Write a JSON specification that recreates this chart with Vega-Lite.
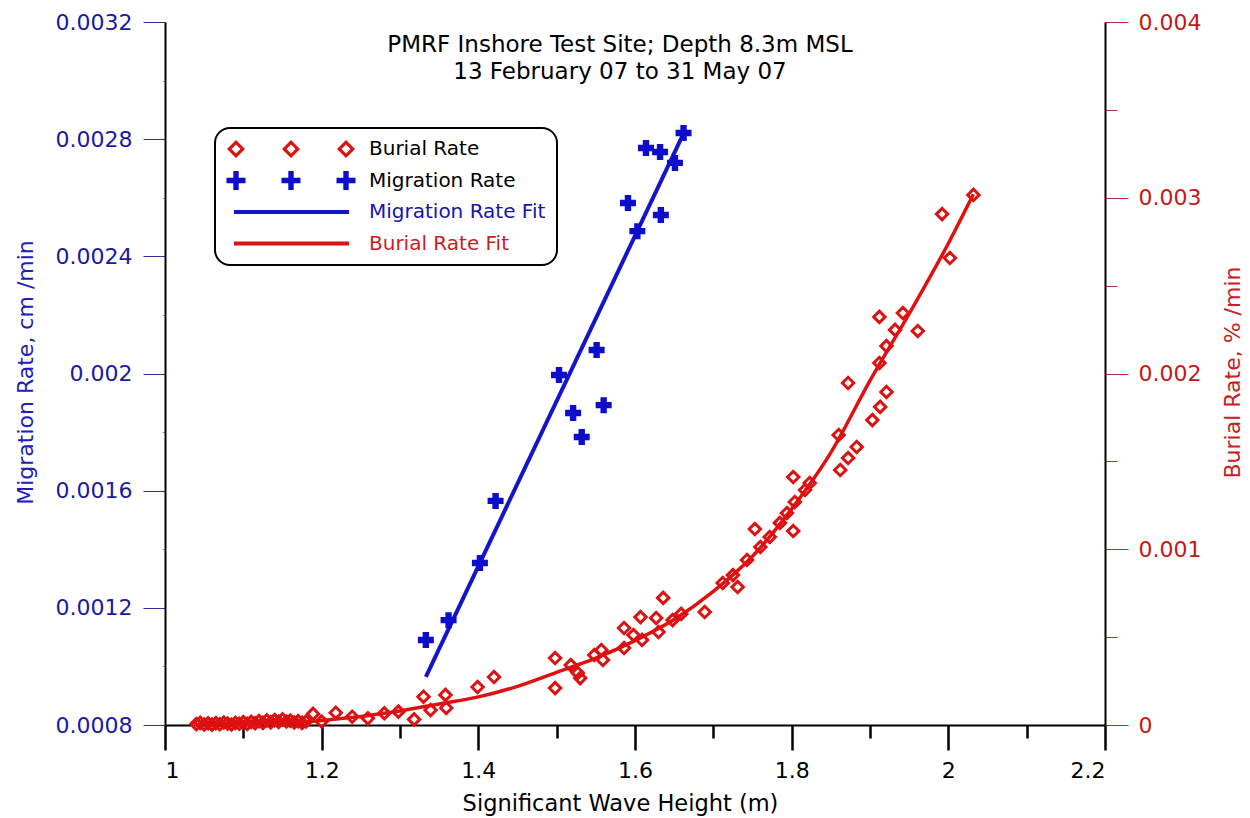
{
  "$schema": "https://vega.github.io/schema/vega-lite/v6.json",
  "width": 940,
  "height": 703,
  "autosize": "none",
  "padding": {"left": 165, "top": 22, "right": 145, "bottom": 93},
  "background": "white",
  "config": {
    "view": {"stroke": null},
    "font": "DejaVu Sans",
    "legend": {"strokeWidth": 2}
  },
  "title": {
    "text": ["PMRF Inshore Test Site; Depth 8.3m MSL", "13 February 07 to 31 May 07"],
    "font": "DejaVu Sans",
    "fontSize": 23,
    "fontWeight": "normal",
    "color": "black",
    "anchor": "middle",
    "baseline": "top",
    "lineHeight": 27,
    "dx": -15,
    "dy": 73,
    "offset": 0
  },
  "datasets": {
    "migration": [
      {"h": 1.333, "rate": 0.00109, "series": "Migration Rate"},
      {"h": 1.362, "rate": 0.001158, "series": "Migration Rate"},
      {"h": 1.402, "rate": 0.001353, "series": "Migration Rate"},
      {"h": 1.422, "rate": 0.001565, "series": "Migration Rate"},
      {"h": 1.503, "rate": 0.001995, "series": "Migration Rate"},
      {"h": 1.521, "rate": 0.001865, "series": "Migration Rate"},
      {"h": 1.532, "rate": 0.001783, "series": "Migration Rate"},
      {"h": 1.551, "rate": 0.00208, "series": "Migration Rate"},
      {"h": 1.56, "rate": 0.001892, "series": "Migration Rate"},
      {"h": 1.591, "rate": 0.002582, "series": "Migration Rate"},
      {"h": 1.603, "rate": 0.002486, "series": "Migration Rate"},
      {"h": 1.614, "rate": 0.00277, "series": "Migration Rate"},
      {"h": 1.632, "rate": 0.002756, "series": "Migration Rate"},
      {"h": 1.633, "rate": 0.002541, "series": "Migration Rate"},
      {"h": 1.651, "rate": 0.002719, "series": "Migration Rate"},
      {"h": 1.662, "rate": 0.002821, "series": "Migration Rate"}
    ],
    "migfit": [
      {"h": 1.333, "rate": 0.000964},
      {"h": 1.664, "rate": 0.002831}
    ],
    "burial": [
      {"h": 1.04, "rate": 0.000005},
      {"h": 1.045, "rate": 0.000012},
      {"h": 1.05, "rate": 0.000003},
      {"h": 1.055, "rate": 0.00001},
      {"h": 1.06, "rate": 0.000002},
      {"h": 1.065, "rate": 0.000011},
      {"h": 1.07, "rate": 0.000004},
      {"h": 1.075, "rate": 0.000014},
      {"h": 1.08, "rate": 0.000008},
      {"h": 1.085, "rate": 0.000003},
      {"h": 1.09, "rate": 0.000012},
      {"h": 1.095, "rate": 0.000007},
      {"h": 1.1, "rate": 0.000016},
      {"h": 1.105, "rate": 0.000006},
      {"h": 1.11, "rate": 0.000018},
      {"h": 1.115, "rate": 0.00001},
      {"h": 1.12, "rate": 0.000022},
      {"h": 1.125, "rate": 0.000012},
      {"h": 1.13, "rate": 0.000026},
      {"h": 1.135, "rate": 0.000015},
      {"h": 1.14, "rate": 0.000028},
      {"h": 1.145, "rate": 0.000018},
      {"h": 1.15, "rate": 0.000032},
      {"h": 1.155, "rate": 0.00002},
      {"h": 1.16, "rate": 0.000025},
      {"h": 1.165, "rate": 0.000014},
      {"h": 1.17, "rate": 0.000022},
      {"h": 1.175, "rate": 0.000012},
      {"h": 1.18, "rate": 0.00002},
      {"h": 1.189, "rate": 0.000063},
      {"h": 1.2, "rate": 0.00002},
      {"h": 1.218, "rate": 0.00007},
      {"h": 1.239, "rate": 0.000047},
      {"h": 1.259, "rate": 0.000038},
      {"h": 1.28, "rate": 0.000067},
      {"h": 1.298, "rate": 0.000076},
      {"h": 1.318, "rate": 0.000032},
      {"h": 1.33, "rate": 0.000161},
      {"h": 1.339, "rate": 0.000085},
      {"h": 1.358, "rate": 0.000171},
      {"h": 1.359, "rate": 0.000097},
      {"h": 1.399, "rate": 0.000216},
      {"h": 1.42, "rate": 0.000273},
      {"h": 1.498, "rate": 0.000381},
      {"h": 1.498, "rate": 0.00021},
      {"h": 1.518, "rate": 0.000341},
      {"h": 1.527, "rate": 0.000296},
      {"h": 1.53, "rate": 0.000267},
      {"h": 1.548, "rate": 0.000398},
      {"h": 1.557, "rate": 0.000427},
      {"h": 1.559, "rate": 0.00037},
      {"h": 1.586, "rate": 0.000552},
      {"h": 1.598, "rate": 0.000512},
      {"h": 1.586, "rate": 0.000438},
      {"h": 1.607, "rate": 0.000614},
      {"h": 1.609, "rate": 0.000484},
      {"h": 1.627, "rate": 0.000609},
      {"h": 1.63, "rate": 0.000529},
      {"h": 1.636, "rate": 0.000723},
      {"h": 1.648, "rate": 0.000597},
      {"h": 1.659, "rate": 0.000632},
      {"h": 1.689, "rate": 0.000643},
      {"h": 1.712, "rate": 0.000808},
      {"h": 1.731, "rate": 0.000785},
      {"h": 1.725, "rate": 0.000853},
      {"h": 1.743, "rate": 0.000939},
      {"h": 1.753, "rate": 0.001115},
      {"h": 1.76, "rate": 0.001013},
      {"h": 1.772, "rate": 0.00107},
      {"h": 1.785, "rate": 0.00115},
      {"h": 1.794, "rate": 0.001206},
      {"h": 1.802, "rate": 0.001411},
      {"h": 1.802, "rate": 0.001104},
      {"h": 1.804, "rate": 0.001269},
      {"h": 1.817, "rate": 0.001337},
      {"h": 1.823, "rate": 0.001377},
      {"h": 1.86, "rate": 0.00165},
      {"h": 1.862, "rate": 0.001451},
      {"h": 1.872, "rate": 0.001519},
      {"h": 1.883, "rate": 0.001582},
      {"h": 1.872, "rate": 0.001946},
      {"h": 1.903, "rate": 0.001735},
      {"h": 1.913, "rate": 0.00181},
      {"h": 1.921, "rate": 0.001895},
      {"h": 1.912, "rate": 0.00206},
      {"h": 1.921, "rate": 0.002156},
      {"h": 1.932, "rate": 0.002248},
      {"h": 1.912, "rate": 0.002322},
      {"h": 1.942, "rate": 0.002344},
      {"h": 1.961, "rate": 0.002242},
      {"h": 1.992, "rate": 0.002907},
      {"h": 2.002, "rate": 0.002657},
      {"h": 2.032, "rate": 0.003016}
    ],
    "burfit": [
      {"h": 1.04, "rate": 0},
      {"h": 1.1, "rate": 0.000004},
      {"h": 1.2, "rate": 0.000025},
      {"h": 1.3, "rate": 0.00008},
      {"h": 1.35, "rate": 0.00012},
      {"h": 1.4, "rate": 0.00016},
      {"h": 1.45, "rate": 0.00022},
      {"h": 1.5, "rate": 0.0003},
      {"h": 1.55, "rate": 0.00038},
      {"h": 1.6, "rate": 0.00048},
      {"h": 1.65, "rate": 0.0006},
      {"h": 1.7, "rate": 0.00076},
      {"h": 1.75, "rate": 0.00096},
      {"h": 1.8, "rate": 0.00123},
      {"h": 1.85, "rate": 0.00155},
      {"h": 1.9, "rate": 0.00196},
      {"h": 1.95, "rate": 0.00234},
      {"h": 2.0, "rate": 0.00274},
      {"h": 2.032, "rate": 0.00302}
    ]
  },
  "layer": [
    {
      "data": {"name": "burfit"},
      "mark": {"type": "line", "color": "#e01010", "strokeWidth": 3.5, "interpolate": "monotone"},
      "encoding": {
        "x": {"field": "h", "type": "quantitative", "scale": {"domain": [1, 2.2], "nice": false, "zero": false}, "axis": null},
        "y": {
          "field": "rate", "type": "quantitative",
          "scale": {"domain": [0, 0.004], "nice": false, "zero": false},
          "axis": {
            "orient": "right", "values": [0.0005, 0.0015, 0.0025, 0.0035],
            "labels": false, "domain": false, "title": null, "grid": false,
            "tickSize": 12, "tickColor": "#b03030", "tickWidth": 1
          }
        }
      }
    },
    {
      "data": {"name": "burial"},
      "mark": {"type": "point", "shape": "diamond", "filled": false, "color": "#dd1111", "strokeWidth": 3, "size": 130, "opacity": 1},
      "encoding": {
        "x": {"field": "h", "type": "quantitative", "scale": {"domain": [1, 2.2], "nice": false, "zero": false}, "axis": null},
        "y": {
          "field": "rate", "type": "quantitative",
          "scale": {"domain": [0, 0.004], "nice": false, "zero": false},
          "axis": {
            "orient": "right", "values": [0, 0.001, 0.002, 0.003, 0.004], "format": "~g",
            "grid": false, "domain": true, "domainColor": "black", "domainWidth": 2,
            "tickSize": 23, "tickColor": "#b03030", "tickWidth": 1,
            "labelPadding": 10, "labelFontSize": 22, "labelFont": "DejaVu Sans", "labelColor": "#c41818",
            "title": "Burial Rate, % /min", "titleFont": "DejaVu Sans", "titleFontSize": 22, "titleFontWeight": "normal",
            "titleColor": "#c82020", "titleAngle": 270, "titleX": 127, "titleY": 350, "titleBaseline": "middle", "titleAlign": "center"
          }
        }
      }
    },
    {
      "data": {"name": "migfit"},
      "mark": {"type": "line", "color": "#1414c8", "strokeWidth": 4},
      "encoding": {
        "x": {
          "field": "h", "type": "quantitative", "scale": {"domain": [1, 2.2], "nice": false, "zero": false},
          "axis": {
            "orient": "bottom", "values": [1.1, 1.3, 1.5, 1.7, 1.9, 2.1],
            "labels": false, "domain": false, "title": null, "grid": false,
            "tickSize": 13, "tickColor": "black", "tickWidth": 2.5
          }
        },
        "y": {
          "field": "rate", "type": "quantitative",
          "scale": {"domain": [0.0008, 0.0032], "nice": false, "zero": false},
          "axis": {
            "orient": "left", "values": [0.001, 0.0014, 0.0018, 0.0022, 0.0026, 0.003],
            "labels": false, "domain": false, "title": null, "grid": false,
            "tickSize": 3, "tickColor": "#999999", "tickWidth": 1
          }
        }
      }
    },
    {
      "data": {"name": "migration"},
      "mark": {"type": "point", "shape": "cross", "filled": true, "size": 256, "opacity": 1},
      "encoding": {
        "x": {
          "field": "h", "type": "quantitative", "scale": {"domain": [1, 2.2], "nice": false, "zero": false},
          "axis": {
            "orient": "bottom", "values": [1, 1.2, 1.4, 1.6, 1.8, 2, 2.2], "format": "~g",
            "grid": false, "domain": true, "domainColor": "black", "domainWidth": 2,
            "tickSize": 25, "tickColor": "black", "tickWidth": 2.5,
            "labelPadding": 10, "labelFontSize": 22, "labelFont": "DejaVu Sans", "labelColor": "black",
            "title": "Significant Wave Height  (m)", "titleFont": "DejaVu Sans", "titleFontSize": 22.5, "titleFontWeight": "normal",
            "titleColor": "black", "titleX": 455, "titleY": 85, "titleBaseline": "alphabetic", "titleAlign": "center"
          }
        },
        "y": {
          "field": "rate", "type": "quantitative",
          "scale": {"domain": [0.0008, 0.0032], "nice": false, "zero": false},
          "axis": {
            "orient": "left", "values": [0.0008, 0.0012, 0.0016, 0.002, 0.0024, 0.0028, 0.0032], "format": "~g",
            "grid": false, "domain": true, "domainColor": "black", "domainWidth": 2,
            "tickSize": 22, "tickColor": "#303090", "tickWidth": 1,
            "labelPadding": 11, "labelFontSize": 22, "labelFont": "DejaVu Sans", "labelColor": "#1a1aa0",
            "title": "Migration Rate, cm /min", "titleFont": "DejaVu Sans", "titleFontSize": 22, "titleFontWeight": "normal",
            "titleColor": "#2020b8", "titleAngle": 270, "titleX": -140, "titleY": 350, "titleBaseline": "middle", "titleAlign": "center"
          }
        },
        "color": {
          "field": "series", "type": "nominal",
          "scale": {
            "domain": ["Burial Rate", "Migration Rate", "Migration Rate Fit", "Burial Rate Fit"],
            "range": ["#dd1111", "#0d0dcc", "#1414c8", "#e01010"]
          },
          "legend": {
            "title": null,
            "orient": "none",
            "legendX": 50,
            "legendY": 106,
            "direction": "vertical",
            "padding": 11,
            "rowPadding": 11.5,
            "symbolSize": 400,
            "symbolStrokeWidth": 0,
            "labelOffset": 123,
            "labelLimit": 400,
            "labelFont": "DejaVu Sans",
            "labelFontSize": 20,
            "strokeColor": "black",
            "fillColor": "white",
            "cornerRadius": 15,
            "symbolType": {"expr": "datum.value === 'Burial Rate' ? 'M0,-0.9L0.9,0L0,0.9L-0.9,0ZM0,-0.45L-0.45,0L0,0.45L0.45,0ZM5.5,-0.9L6.4,0L5.5,0.9L4.6,0ZM5.5,-0.45L5.05,0L5.5,0.45L5.95,0ZM11,-0.9L11.9,0L11,0.9L10.1,0ZM11,-0.45L10.55,0L11,0.45L11.45,0Z' : datum.value === 'Migration Rate' ? 'M-0.27,-0.95L0.27,-0.95L0.27,-0.27L0.95,-0.27L0.95,0.27L0.27,0.27L0.27,0.95L-0.27,0.95L-0.27,0.27L-0.95,0.27L-0.95,-0.27L-0.27,-0.27ZM5.23,-0.95L5.77,-0.95L5.77,-0.27L6.45,-0.27L6.45,0.27L5.77,0.27L5.77,0.95L5.23,0.95L5.23,0.27L4.55,0.27L4.55,-0.27L5.23,-0.27ZM10.73,-0.95L11.27,-0.95L11.27,-0.27L11.95,-0.27L11.95,0.27L11.27,0.27L11.27,0.95L10.73,0.95L10.73,0.27L10.05,0.27L10.05,-0.27L10.73,-0.27Z' : 'M-0.2,-0.2L11.3,-0.2L11.3,0.2L-0.2,0.2Z'"},
            "labelColor": {"expr": "datum.value === 'Migration Rate Fit' ? '#1515b0' : datum.value === 'Burial Rate Fit' ? '#c81e1e' : 'black'"}
          }
        }
      }
    }
  ],
  "resolve": {
    "scale": {"y": "independent"},
    "axis": {"x": "independent", "y": "independent"}
  }
}
